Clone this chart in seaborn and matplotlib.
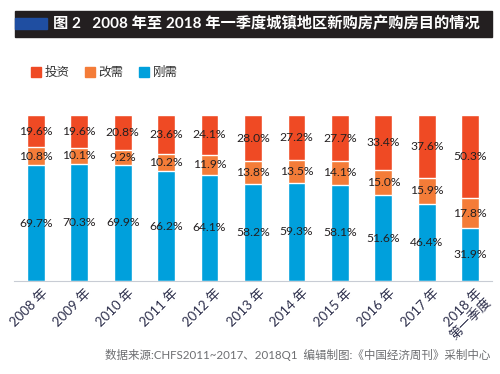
import matplotlib
matplotlib.use("Agg")
import matplotlib.pyplot as plt
from matplotlib.patches import Rectangle, Patch
from matplotlib.transforms import ScaledTranslation
import seaborn as sns
import pandas as pd
import numpy as np

years = ["2008 年", "2009 年", "2010 年", "2011 年", "2012 年", "2013 年",
         "2014 年", "2015 年", "2016 年", "2017 年", "2018 年\n第一季度"]
gangxu = [69.7, 70.3, 69.9, 66.2, 64.1, 58.2, 59.3, 58.1, 51.6, 46.4, 31.9]
gaixu = [10.8, 10.1, 9.2, 10.2, 11.9, 13.8, 13.5, 14.1, 15.0, 15.9, 17.8]
touzi = [19.6, 19.6, 20.8, 23.6, 24.1, 28.0, 27.2, 27.7, 33.4, 37.6, 50.3]

c_red = "#ef4a24"
c_orange = "#f47c38"
c_blue = "#00a0dc"
c_text = "#231f20"

sns.set_theme(style="white")
plt.rcParams["font.family"] = ["Lato", "Noto Sans CJK SC", "DejaVu Sans"]

df = pd.DataFrame({"year": years, "gangxu": gangxu, "gaixu": gaixu, "touzi": touzi})
df["lvl2"] = df["gangxu"] + df["gaixu"]
df["lvl3"] = df["lvl2"] + df["touzi"]

fig = plt.figure(figsize=(5, 3.74), dpi=100)
ax = fig.add_axes([0.028, 0.2487, 0.956, 0.4439])

w = 0.41
sns.barplot(data=df, x="year", y="lvl3", color=c_red, width=w, saturation=1, ax=ax)
sns.barplot(data=df, x="year", y="lvl2", color=c_orange, width=w, saturation=1, ax=ax)
sns.barplot(data=df, x="year", y="gangxu", color=c_blue, width=w, saturation=1, ax=ax)

x = np.arange(len(years))
for i in range(len(years)):
    ax.text(x[i], gangxu[i] / 2, f"{gangxu[i]:.1f}%", ha="center", va="center",
            fontsize=8.7, color=c_text)
    ax.text(x[i], gangxu[i] + gaixu[i] / 2, f"{gaixu[i]:.1f}%", ha="center",
            va="center", fontsize=8.7, color=c_text)
    ax.text(x[i], df["lvl2"][i] + touzi[i] / 2, f"{touzi[i]:.1f}%", ha="center",
            va="center", fontsize=8.7, color=c_text)

ax.set_xlim(-0.5, len(years) - 0.5)
ax.set_ylim(0, 100)
ax.set_xlabel("")
ax.set_ylabel("")
ax.set_yticks([])
for s in ["top", "left", "right"]:
    ax.spines[s].set_visible(False)
ax.spines["bottom"].set_color("#c8ccd4")
ax.spines["bottom"].set_linewidth(0.8)
ax.tick_params(axis="x", length=0, pad=4)
ax.set_xticks(x)
ax.set_xticklabels(years, rotation=45, ha="right", rotation_mode="anchor",
                   fontsize=9.5, color="#2b2d4a", linespacing=1.0)
shift = ScaledTranslation(5 / 100, 0, fig.dpi_scale_trans)
for lbl in ax.get_xticklabels():
    lbl.set_transform(lbl.get_transform() + shift)

# title bar
fig.patches.append(Rectangle((15 / 500, 1 - 37 / 374), 477 / 500, 26 / 374,
                             transform=fig.transFigure, color="#231f20", zorder=0))
fig.patches.append(Rectangle((15 / 500, 1 - 29 / 374), 32 / 500, 11 / 374,
                             transform=fig.transFigure, color="#1f4ea1", zorder=1))
fig.text(53 / 500, 1 - 24 / 374, "图 2   2008 年至 2018 年一季度城镇地区新购房产购房目的情况",
         color="white", fontsize=11, fontweight="bold", va="center", ha="left")

handles = [Patch(color=c_red, label="投资"), Patch(color=c_orange, label="改需"),
           Patch(color=c_blue, label="刚需")]
fig.legend(handles=handles, loc="center left", bbox_to_anchor=(0.04, 1 - 72 / 374),
           ncol=3, frameon=False, fontsize=9, handlelength=0.8, handleheight=0.8,
           handletextpad=0.3, columnspacing=1.2, labelcolor="#333333")

fig.text(490 / 500, 1 - 355 / 374,
         "数据来源:CHFS2011~2017、2018Q1  编辑制图:《中国经济周刊》采制中心",
         color="#6d6e71", fontsize=8.3, ha="right", va="center")

fig.savefig("out.png", dpi=100)
